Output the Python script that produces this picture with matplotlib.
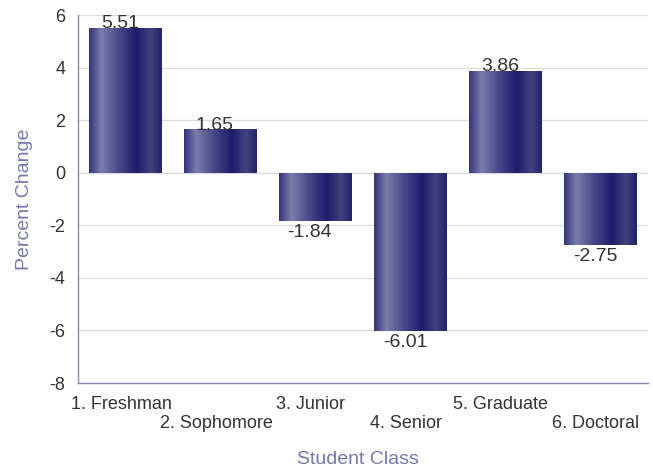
import numpy as np
import matplotlib
matplotlib.use("Agg")
import matplotlib.pyplot as plt
import matplotlib.transforms as mtransforms
from matplotlib.colors import LinearSegmentedColormap

categories = ["1. Freshman", "2. Sophomore", "3. Junior", "4. Senior", "5. Graduate", "6. Doctoral"]
values = [5.51, 1.65, -1.84, -6.01, 3.86, -2.75]
yticks = [-8, -6, -4, -2, 0, 2, 4, 6]

plt.rcParams['font.family'] = ['Liberation Sans', 'DejaVu Sans']
plt.rcParams['axes.unicode_minus'] = False

fig = plt.figure(figsize=(6.53, 4.70), dpi=100)
ax = fig.add_axes([0.1194, 0.185, 0.8729, 0.783])

x = np.arange(len(categories))
bars = ax.bar(x, values, width=0.76, color='none', edgecolor='none', zorder=3)

cmap = LinearSegmentedColormap.from_list('bar', [
    (0.0, '#34347c'), (0.17, '#7c7cac'), (0.40, '#4a4a8a'),
    (0.66, '#1c1c6c'), (0.85, '#42427f'), (1.0, '#22226c')])
grad = np.linspace(0, 1, 256).reshape(1, -1)
for b in bars:
    x0, y0 = b.get_x(), b.get_y()
    w, h = b.get_width(), b.get_height()
    ylo, yhi = min(y0, y0 + h), max(y0, y0 + h)
    im = ax.imshow(grad, cmap=cmap, aspect='auto', extent=[x0, x0 + w, ylo, yhi],
                   zorder=3, interpolation='bilinear')
    im.set_clip_path(b)

for xi, v in zip(x, values):
    if v >= 0:
        ax.annotate(f"{v:.2f}", (xi, v), xytext=(-4, -3), textcoords='offset points',
                    ha='center', va='bottom', fontsize=14, color='#333333', zorder=4)
    else:
        ax.annotate(f"{v:.2f}", (xi, v), xytext=(-4, -2), textcoords='offset points',
                    ha='center', va='top', fontsize=14, color='#333333', zorder=4)

ax.set_xlim(-0.5, len(categories) - 0.5)
ax.set_ylim(-8, 6)
ax.set_yticks(yticks)
ax.set_xticks(x)
ax.set_xticklabels(categories)
ax.tick_params(axis='both', length=0, labelsize=13, labelcolor='#333333')
ax.tick_params(axis='y', pad=9)
offset = mtransforms.ScaledTranslation(-4.5 / 100, 0, fig.dpi_scale_trans)
for i, tick in enumerate(ax.xaxis.get_major_ticks()):
    tick.set_pad(9 if i % 2 == 0 else 23)
    tick.label1.set_transform(tick.label1.get_transform() + offset)

ax.yaxis.grid(True, color='#dddddd', linewidth=1, zorder=0)
ax.set_axisbelow(True)
for s in ['top', 'right']:
    ax.spines[s].set_visible(False)
for s in ['left', 'bottom']:
    ax.spines[s].set_color('#8888aa')
    ax.spines[s].set_linewidth(1)

ax.set_xlabel("Student Class", fontsize=14, color='#7777aa')
ax.xaxis.set_label_coords(0.492, -0.209)
ax.xaxis.label.set_verticalalignment('center')
ax.set_ylabel("Percent Change", fontsize=14, color='#7777aa', labelpad=12)

fig.savefig("out.png", dpi=100)
